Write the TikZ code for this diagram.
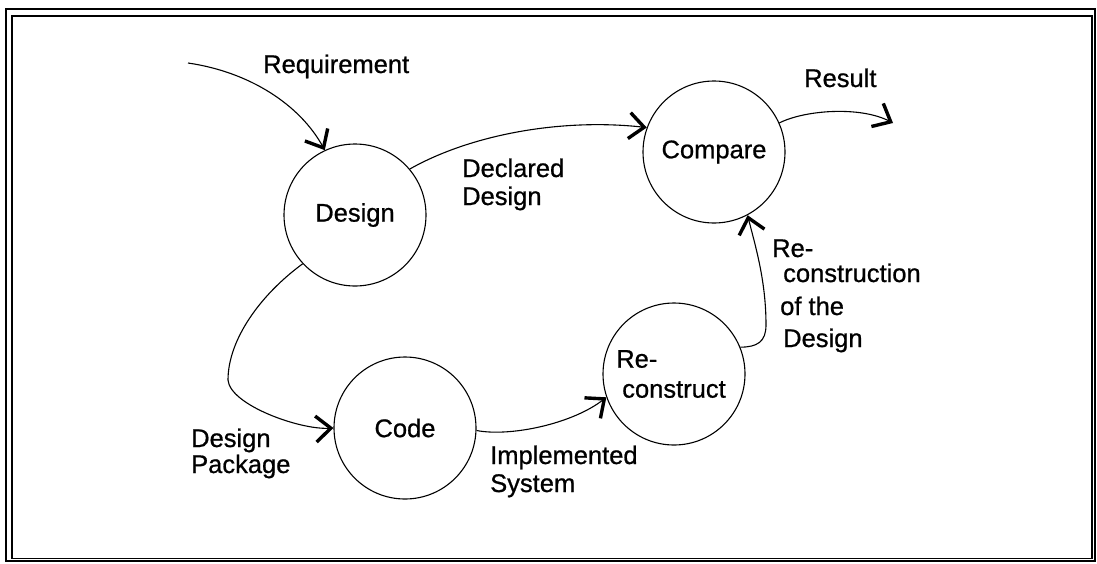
\documentclass[tikz,border=0pt]{standalone}
\usepackage{fontspec}
\setmainfont{Liberation Sans}
\newfontfamily\scanfont{Liberation Sans}[FakeBold=0.8]
\usetikzlibrary{arrows.meta}
\begin{document}
\begin{tikzpicture}[x=1pt,y=-1pt,
  every node/.style={font=\scanfont\fontsize{25.5}{28}\selectfont},
  process/.style={draw, circle, line width=1.1pt, minimum size=142pt, inner sep=0pt},
  flow/.style={line width=1.1pt, -{Straight Barb[length=15pt,width=26pt,line width=3.4pt]}},
  flowtext/.style={anchor=base west, align=left, inner sep=0pt},
  frameline/.style={line width=1.8pt}]
\useasboundingbox (0,0) rectangle (1097,563);
% double frame
\draw[frameline] (6,9) rectangle (1095,561);
\draw[frameline] (12,16) rectangle (1092,558.5);

% processes
\node[process] (design) at (355,215) {Design};
\node[process] (code) at (405,428) {Code};
\node[process, align=left] (recon) at (674,374) {\hspace*{-6pt}Re-\\[2pt]construct};
\node[process] (compare) at (714,152) {Compare};

% free ends
\coordinate (reqin) at (188,63);
\coordinate (resout) at (893,123);

% data flows
\draw[flow] (reqin) .. controls (250,72) and (300,105) .. (design.115);
\draw[flow] (design.40) .. controls (470,135) and (560,118) .. (compare.160);
\draw[flow] (compare.24) .. controls (805,110) and (860,106) .. (resout);
\draw[flow] (design.223) .. controls (260,295) and (228,340) .. (228,380)
  .. controls (230,405) and (300,430) .. (code.180);
\draw[flow] (code.-2) .. controls (510,437) and (572,424) .. (recon.199);
\draw[flow] (recon.22) .. controls (757,347) and (766,342) .. (766,325)
  .. controls (766,280) and (755,245) .. (compare.298);

% flow labels (multi-line ones are placed by their last baseline)
\node[flowtext] (reqtext) at (263,73) {Requirement};
\node[flowtext] (restext) at (804,87) {Result};
\node[flowtext] (decltext) at (462,205) {Declared\\Design};
\node[flowtext] (pkgtext) at (191,473) {Design\\[-2pt]Package};
\node[flowtext] (impltext) at (490,492) {Implemented\\System};
\node[flowtext, font=\scanfont\fontsize{25.5}{25}\selectfont] (rectext) at (783,347)
  {\hspace*{-11pt}Re-\\construction\\[8pt]\hspace*{-3pt}of the\\[7pt]Design};
\end{tikzpicture}
\end{document}
